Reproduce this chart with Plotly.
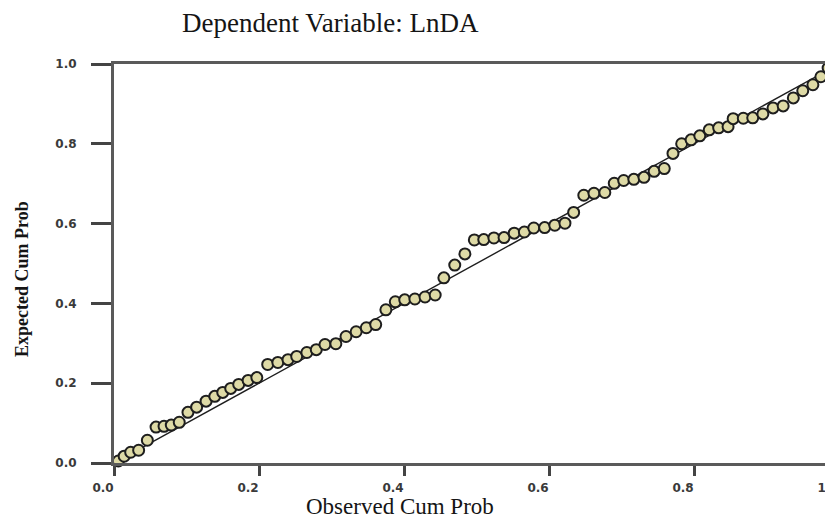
import plotly.graph_objects as go

# Observed cumulative probability (x) and expected cumulative probability (y)
observed = [0.006, 0.014, 0.023, 0.034, 0.046, 0.058, 0.069, 0.079, 0.090, 0.102,
            0.114, 0.127, 0.139, 0.150, 0.161, 0.172, 0.185, 0.197, 0.212, 0.226,
            0.240, 0.252, 0.266, 0.279, 0.291, 0.306, 0.320, 0.334, 0.348, 0.361,
            0.375, 0.388, 0.401, 0.415, 0.429, 0.443, 0.455, 0.470, 0.484, 0.497,
            0.510, 0.524, 0.538, 0.552, 0.566, 0.579, 0.594, 0.608, 0.622, 0.634,
            0.648, 0.662, 0.677, 0.690, 0.703, 0.717, 0.731, 0.745, 0.759, 0.771,
            0.783, 0.796, 0.808, 0.821, 0.834, 0.847, 0.854, 0.868, 0.881, 0.895,
            0.909, 0.923, 0.937, 0.950, 0.964, 0.975, 0.985, 0.990]
expected = [0.005, 0.017, 0.027, 0.032, 0.057, 0.090, 0.092, 0.095, 0.102, 0.127,
            0.140, 0.155, 0.167, 0.177, 0.187, 0.197, 0.207, 0.214, 0.247, 0.252,
            0.259, 0.267, 0.277, 0.284, 0.297, 0.299, 0.317, 0.329, 0.339, 0.347,
            0.384, 0.404, 0.409, 0.411, 0.416, 0.421, 0.464, 0.496, 0.524, 0.559,
            0.560, 0.564, 0.565, 0.576, 0.579, 0.589, 0.590, 0.596, 0.601, 0.628,
            0.671, 0.676, 0.678, 0.701, 0.708, 0.711, 0.716, 0.731, 0.738, 0.776,
            0.800, 0.810, 0.820, 0.835, 0.840, 0.843, 0.863, 0.864, 0.865, 0.875,
            0.890, 0.895, 0.915, 0.933, 0.948, 0.968, 0.990, 1.000]

ref_line = [0.0, 1.0]
tick_vals = [0.0, 0.2, 0.4, 0.6, 0.8, 1.0]
tick_text = ["0.0", "0.2", "0.4", "0.6", "0.8", "1.0"]

title_text = "Dependent Variable: LnDA"
x_title = "Observed Cum Prob"
y_title = "Expected Cum Prob"

tick_font = dict(family="DejaVu Sans", size=12, color="#3a3a3a", weight="bold")
serif = "Liberation Serif"

fig = go.Figure()
fig.add_trace(go.Scatter(x=ref_line, y=ref_line, mode="lines",
                         line=dict(color="#1e1e1e", width=1.4),
                         hoverinfo="skip", showlegend=False))
fig.add_trace(go.Scatter(x=observed, y=expected, mode="markers",
                         marker=dict(symbol="circle", size=11, color="#dedaa6",
                                     line=dict(color="#1e1e1e", width=2)),
                         cliponaxis=False, showlegend=False))

fig.update_layout(
    width=833, height=518,
    margin=dict(l=106, r=2, t=56, b=63, pad=0),
    paper_bgcolor="white", plot_bgcolor="white",
    xaxis=dict(range=[0, 1], tickvals=tick_vals, ticktext=tick_text,
               automargin=False,
               showgrid=False, zeroline=False, showline=True, mirror=True,
               linecolor="#5a5a5a", linewidth=3,
               ticks="outside", ticklen=10, tickwidth=2.5, tickcolor="#444444",
               tickfont=tick_font, ticklabelshift=-11, ticklabelstandoff=2),
    yaxis=dict(range=[0, 1], tickvals=tick_vals, ticktext=tick_text,
               automargin=False,
               showgrid=False, zeroline=False, showline=True, mirror=True,
               linecolor="#5a5a5a", linewidth=3,
               ticks="outside", ticklen=20, tickwidth=2.5, tickcolor="#444444",
               tickfont=tick_font, ticklabelstandoff=12),
    shapes=[
        dict(type="line", xref="paper", yref="paper", x0=0.9903, x1=0.9903, y0=0, y1=1,
             line=dict(color="#9a9a9a", width=1.5), layer="below"),
    ],
    annotations=[
        dict(text=title_text, xref="paper", yref="paper", x=0.298, y=1.103,
             xanchor="center", yanchor="middle", showarrow=False,
             font=dict(family=serif, size=27, color="#151515")),
        dict(text=x_title, xref="paper", yref="paper", x=0.394, y=-0.108,
             xanchor="center", yanchor="middle", showarrow=False,
             font=dict(family=serif, size=23, color="#151515")),
        dict(text=y_title, xref="paper", yref="paper", x=-0.127, y=0.461,
             xanchor="center", yanchor="middle", showarrow=False, textangle=-90,
             font=dict(family=serif, size=18, color="#151515", weight="bold")),
    ],
)

fig.write_html("out.html")
